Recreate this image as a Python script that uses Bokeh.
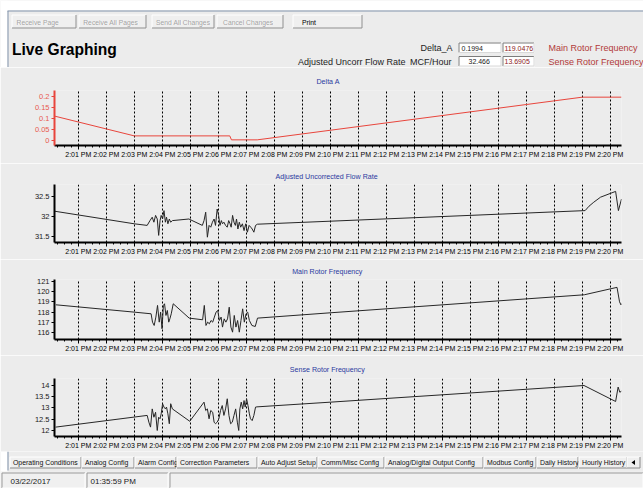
from bokeh.plotting import figure
from bokeh.models import Range1d, FixedTicker, BoxAnnotation
from bokeh.layouts import column
from bokeh.core.properties import value
from bokeh.embed import file_html
from bokeh.resources import INLINE

FONT = "Liberation Sans"
BG = "#ececec"
W = 643
WIN = "#8193ab"

# ---------------- data (minutes after 2:00 PM) ----------------
xtick_pos = [1, 2, 3, 4, 5, 6, 7, 8, 9, 10, 11, 12, 13, 14, 15, 16, 17, 18, 19, 20]
xtick_labels = ["2:01 PM", "2:02 PM", "2:03 PM", "2:04 PM", "2:05 PM", "2:06 PM", "2:07 PM",
                "2:08 PM", "2:09 PM", "2:10 PM", "2:11 PM", "2:12 PM", "2:13 PM", "2:14 PM",
                "2:15 PM", "2:16 PM", "2:17 PM", "2:18 PM", "2:19 PM", "2:20 PM"]

delta_t = [0.15, 3.0, 6.41, 6.47, 7.39, 19.0, 20.4]
delta_v = [0.111, 0.021, 0.021, 0.003, 0.003, 0.197, 0.197]
delta_yticks = [0, 0.05, 0.1, 0.15, 0.2]
delta_ylabels = ["0", "0.05", "0.1", "0.15", "0.2"]

flow_t = [0.15, 3.0, 3.46,
          3.56, 3.64, 3.70, 3.76, 3.82, 3.87, 3.92, 3.96, 4.01, 4.06, 4.11, 4.15, 4.20, 4.25, 4.30, 4.36,
          4.95, 5.43,
          5.49, 5.55, 5.61, 5.67, 5.73, 5.79, 5.85, 5.90, 5.96, 6.01, 6.06, 6.11, 6.15, 6.20, 6.26, 6.32,
          6.37, 6.42, 6.46, 6.51, 6.56, 6.61, 6.65, 6.70, 6.75, 6.80, 6.86, 6.92, 6.98, 7.04, 7.10, 7.16,
          7.21, 7.27, 7.33,
          7.40, 10.0, 19.1, 19.24, 19.41, 19.65, 20.19, 20.29, 20.4]
flow_v = [32.125, 31.81, 31.77,
          31.89, 31.975, 31.85, 32.02, 31.93, 31.52, 31.89, 32.02, 31.93, 32.14, 31.85, 31.975, 31.81,
          31.93, 31.85, 31.89,
          31.93, 31.77,
          31.89, 32.10, 31.475, 31.77, 31.725, 31.85, 31.93, 31.77, 32.18, 32.02, 31.77, 31.89, 31.81,
          31.85, 31.77, 31.725, 31.89, 31.81, 31.725, 32.02, 31.85, 31.77, 31.93, 31.68, 31.85, 31.725,
          31.81, 31.64, 31.81, 31.60, 31.77, 31.725, 31.68, 31.60, 31.77,
          31.80, 31.875, 32.14, 32.25, 32.35, 32.475, 32.62, 32.14, 32.43]
flow_yticks = [31.5, 32, 32.5]
flow_ylabels = ["31.5", "32", "32.5"]

main_t = [0.20, 3.0, 3.60,
          3.65, 3.71, 3.77, 3.83, 3.89, 3.94, 3.99, 4.04, 4.08, 4.13, 4.18, 4.23, 4.27, 4.32, 4.39,
          4.96, 5.44,
          5.50, 5.56, 5.62, 5.68, 5.74, 5.80, 5.86, 5.92, 5.98, 6.04, 6.10, 6.15, 6.21, 6.27, 6.33,
          6.39, 6.45, 6.51, 6.57, 6.63, 6.69, 6.75, 6.81, 6.87, 6.93, 6.99, 7.05, 7.11, 7.20, 7.32,
          7.40, 10.02, 19.07, 20.24, 20.33, 20.38, 20.42]
main_v = [118.71, 118.0, 117.84,
          117.03, 116.71, 117.52, 118.65, 117.03, 118.0, 116.39, 118.65, 118.81, 117.68, 118.16,
          117.03, 117.35, 117.84, 118.81,
          117.42, 117.26,
          118.65, 116.71, 117.03, 116.87, 117.19, 117.03, 117.52, 118.0, 118.16, 117.19, 117.52,
          116.55, 117.35, 117.03, 117.35, 118.48, 116.55, 116.06, 117.68, 116.55, 117.19, 116.06,
          117.19, 118.32, 117.03, 117.84, 118.0, 117.19, 116.71, 116.61,
          117.42, 117.94, 119.68, 120.4, 119.0, 118.7, 118.85]
main_yticks = [116, 117, 118, 119, 120, 121]
main_ylabels = ["116", "117", "118", "119", "120", "121"]

sense_t = [0.19, 3.46,
           3.52, 3.58, 3.64, 3.70, 3.76, 3.82, 3.87, 3.92, 3.96, 4.01, 4.06, 4.11, 4.15, 4.20, 4.25,
           4.30, 4.36,
           4.98, 5.49,
           5.55, 5.61, 5.67, 5.73, 5.80, 5.85, 5.90, 5.96, 6.02, 6.08, 6.14, 6.20, 6.26, 6.32, 6.38,
           6.44, 6.50, 6.56, 6.62, 6.68, 6.73, 6.77, 6.82, 6.87, 6.92, 6.96, 7.01, 7.06, 7.11, 7.15,
           7.21, 7.27, 7.33,
           7.38, 10.01, 19.06, 20.19, 20.28, 20.34, 20.4]
sense_v = [12.15, 12.67,
           12.37, 12.15, 12.96, 12.59, 12.81, 12.0, 12.59, 12.52, 12.74, 13.19, 13.04, 12.96, 13.04,
           12.74, 12.30, 13.19, 12.96,
           12.41, 13.26,
           12.89, 12.96, 12.52, 12.89, 12.81, 12.37, 12.30, 12.37, 12.52, 12.89, 13.11, 12.67, 12.96,
           13.41, 12.67, 12.30, 12.37, 12.67, 12.96, 12.37, 12.0, 12.96, 13.26, 12.96, 13.33, 13.04,
           13.41, 13.11, 12.74, 12.52, 12.44, 12.67, 13.04,
           13.05, 13.26, 14.0, 13.29, 13.93, 13.7, 13.75]
sense_yticks = [12, 12.5, 13, 13.5, 14]
sense_ylabels = ["12", "12.5", "13", "13.5", "14"]

# header values
field_names = ["Delta_A", "MCF/Hour"]
field_vals_a = ["0.1994", "32.466"]
field_vals_b = ["119.0476", "13.6905"]
field_units = ["Main Rotor Frequency", "Sense Rotor Frequency"]

buttons = ["Receive Page", "Receive All Pages", "Send All Changes", "Cancel Changes", "Print"]
tabs = ["Operating Conditions", "Analog Config", "Alarm Config", "Correction Parameters",
        "Auto Adjust Setup", "Comm/Misc Config", "Analog/Digital Output Config", "Modbus Config",
        "Daily History", "Hourly History"]
status = ["03/22/2017", "01:35:59 PM"]


# ---------------- helpers ----------------
def chrome(height, y_top, y_bot):
    p = figure(width=W, height=height, x_range=Range1d(0, W), y_range=Range1d(y_bot, y_top),
               x_axis_type=None, y_axis_type=None, toolbar_location=None, output_backend="svg",
               tools="", title=None, min_border=0, background_fill_color=BG,
               border_fill_color=BG, outline_line_color=None, frame_align=False)
    p.quad(left=[0], right=[7], top=[y_top], bottom=[y_bot], fill_color="white", line_color=None)
    return p


def txt(p, x, y, s, size, color="#1e1e1e", align="left", style="normal", baseline="middle"):
    p.text(x=[x], y=[y], text=[s], text_font=value(FONT), text_font_size=value(size),
           text_color=color, text_align=align, text_baseline=baseline, text_font_style=style)


def bevel(p, l, r, t, b, light="#ffffff", dark="#9c9c9c", fill=None):
    if fill is not None:
        p.quad(left=[l], right=[r], top=[t], bottom=[b], fill_color=fill, line_color=None)
    p.segment(x0=[l, l], y0=[t, t], x1=[r, l], y1=[t, b], line_color=light, line_width=1)
    p.segment(x0=[l, r], y0=[b, t], x1=[r, r], y1=[b, b], line_color=dark, line_width=1)


# ---------------- header ----------------
hdr = chrome(67, 0, 67)
hdr.quad(left=[0], right=[W], top=[0], bottom=[10], fill_color="white", line_color=None)
hdr.segment(x0=[7], y0=[10.5], x1=[W], y1=[10.5], line_color=WIN)
hdr.segment(x0=[7.5], y0=[10.5], x1=[7.5], y1=[67], line_color=WIN)

btn_l = [11, 78, 151, 216, 292]
btn_r = [76, 146, 214, 283, 362]
btn_pad = [5, 4.7, 4.5, 6.5, 9.5]
for i, name in enumerate(buttons):
    bevel(hdr, btn_l[i] + 0.5, btn_r[i] - 0.5, 14.5, 27.5, dark="#8f8f8f", fill="#efefef")
    if i < 4:
        txt(hdr, btn_l[i] + btn_pad[i] + 0.7, 22.2, name, "6.8px", color="#ffffff")
        txt(hdr, btn_l[i] + btn_pad[i], 21.5, name, "6.8px", color="#a2a2a2")
    else:
        txt(hdr, btn_l[i] + btn_pad[i], 21.5, name, "6.8px", color="#000000")

txt(hdr, 11.5, 48.5, "Live Graphing", "15.6px", color="#000000", style="bold", baseline="alphabetic")

txt(hdr, 452, 47.5, field_names[0], "9px", align="right")
txt(hdr, 405, 61, "Adjusted Uncorr Flow Rate", "9px", align="right")
txt(hdr, 451, 61, field_names[1], "9px", align="right")
for row, (yt, yb) in enumerate([(42, 52.5), (55.5, 66)]):
    for (l, r) in [(458, 501), (502, 534)]:
        hdr.quad(left=[l], right=[r], top=[yt], bottom=[yb], fill_color="white", line_color=None)
        bevel(hdr, l + 0.5, r - 0.5, yt + 0.5, yb - 0.5, light="#7c7c7c", dark="#d9d9d9")
txt(hdr, 461, 47.5, field_vals_a[0], "7px", color="#1a1a1a")
txt(hdr, 468, 61, field_vals_a[1], "7px", color="#1a1a1a")
txt(hdr, 504, 47.5, field_vals_b[0], "7px", color="#8b1a1a")
txt(hdr, 504, 61, field_vals_b[1], "7px", color="#8b1a1a")
txt(hdr, 548, 47.5, field_units[0], "9px", color="#b23a3a")
txt(hdr, 548, 61, field_units[1], "9px", color="#b23a3a")

# ---------------- charts ----------------
X_START, X_END = 0.15, 20.4
xminor = [m + q for m in range(0, 21) for q in (0.25, 0.5, 0.75)]


def canvas_box(**kw):
    return BoxAnnotation(left_units="canvas", right_units="canvas", top_units="canvas",
                         bottom_units="canvas", **kw)


def chart(t, v, yr, yticks, ylabels, top, bottom, line_color, axis_color, title, title_offset,
          title_standoff, panel_top, panel_bottom):
    p = figure(width=W, height=96, x_range=Range1d(X_START, X_END), y_range=Range1d(yr[0], yr[1]),
               toolbar_location=None, output_backend="svg", tools="", title=title,
               min_border_left=54, min_border_right=22, min_border_top=top,
               min_border_bottom=bottom, background_fill_color=BG, border_fill_color=BG,
               outline_line_color=None, frame_align=False)
    p.title.align = "left"
    p.title.offset = title_offset
    p.title.standoff = title_standoff
    p.title.text_font = FONT
    p.title.text_font_size = "7.1px"
    p.title.text_font_style = "normal"
    p.title.text_color = "#2b3aa0"

    p.add_layout(canvas_box(left=0, right=7, top=-2, bottom=100, fill_color="white",
                            fill_alpha=1, line_color=None))
    p.add_layout(canvas_box(left=7.5, right=900, top=-20, bottom=200, fill_color=None,
                            line_color=WIN, line_width=1))
    p.add_layout(canvas_box(left=13.5, right=638.5, top=panel_top, bottom=panel_bottom,
                            fill_color=None, line_color="#a0a0a0", line_width=1))

    xa = p.xaxis[0]
    xa.ticker = FixedTicker(ticks=xtick_pos, minor_ticks=xminor)
    xa.major_label_overrides = {k: s for k, s in zip(xtick_pos, xtick_labels)}
    xa.axis_line_width = 2
    xa.axis_line_color = "#000000"
    xa.major_tick_line_color = "#000000"
    xa.major_tick_out = 4
    xa.major_tick_in = 0
    xa.minor_tick_line_color = "#000000"
    xa.minor_tick_out = 2
    xa.minor_tick_in = 0
    xa.major_label_standoff = 1
    xa.major_label_text_font = FONT
    xa.major_label_text_font_size = "7px"
    xa.major_label_text_color = "#000000"

    ya = p.yaxis[0]
    ya.ticker = FixedTicker(ticks=yticks)
    ya.major_label_overrides = {k: s for k, s in zip(yticks, ylabels)}
    ya.axis_line_width = 2
    ya.axis_line_color = axis_color
    ya.major_tick_line_color = axis_color
    ya.major_tick_out = 3
    ya.major_tick_in = 0
    ya.minor_tick_line_color = None
    ya.major_label_standoff = 2
    ya.major_label_text_font = FONT
    ya.major_label_text_font_size = "7.5px"
    ya.major_label_text_color = "#e85a50" if axis_color != "#000000" else "#202020"

    p.xgrid.grid_line_color = "#000000"
    p.xgrid.grid_line_dash = "2 2"
    p.xgrid.grid_line_width = 1
    p.ygrid.visible = False

    p.line(t, v, line_color=line_color, line_width=1)
    return p


c1 = chart(delta_t, delta_v, (-0.0227, 0.2273), delta_yticks, delta_ylabels, 23, 18,
           "#e8453c", "#e8453c", "Delta A", 262, 9.5, 3.5, 95)
c2 = chart(flow_t, flow_v, (31.3425, 32.7925), flow_yticks, flow_ylabels, 21, 17,
           "#262626", "#000000", "Adjusted Uncorrected Flow Rate", 221, 8, 2.5, 94)
c3 = chart(main_t, main_v, (115.35, 121.16), main_yticks, main_ylabels, 20, 16,
           "#262626", "#000000", "Main Rotor Frequency", 237.7, 7.5, 2.5, 95)
c4 = chart(sense_t, sense_v, (11.733, 14.311), sense_yticks, sense_ylabels, 23, 15,
           "#262626", "#000000", "Sense Rotor Frequency", 235.3, 8.5, 3, 95.5)

# ---------------- footer ----------------
ftr = chrome(37, 451, 488)
ftr.segment(x0=[7.5], y0=[451], x1=[7.5], y1=[470], line_color=WIN)
tab_edges = [9, 81, 134, 176, 257, 317, 384, 483, 536, 578, 627]
for i, name in enumerate(tabs):
    l, r = tab_edges[i], tab_edges[i + 1]
    bevel(ftr, l + 0.5, r - 0.5, 456.5, 467.5, dark="#8a8a8a", fill="#efefef")
    txt(ftr, l + 3.5, 462, name, "6.9px", color="#101010")
bevel(ftr, 626.5, 639.5, 456.5, 467.5, dark="#8a8a8a", fill="#efefef")
ftr.patch(x=[631, 634.5, 634.5], y=[462, 459.5, 464.5], fill_color="#000000", line_color=None)
ftr.quad(left=[0], right=[W], top=[471], bottom=[488], fill_color="#f0f0f0", line_color=None)
for (l, r) in [(1, 85), (86, 168), (169, 643)]:
    bevel(ftr, l + 0.5, r - 0.5, 472.5, 487.5, light="#9a9a9a", dark="#ffffff")
txt(ftr, 10, 481, status[0], "8px", color="#1a1a1a")
txt(ftr, 90, 481, status[1], "8px", color="#1a1a1a")

layout = column(hdr, c1, c2, c3, c4, ftr, spacing=0)
open("out.html", "w").write(file_html(layout, INLINE))
